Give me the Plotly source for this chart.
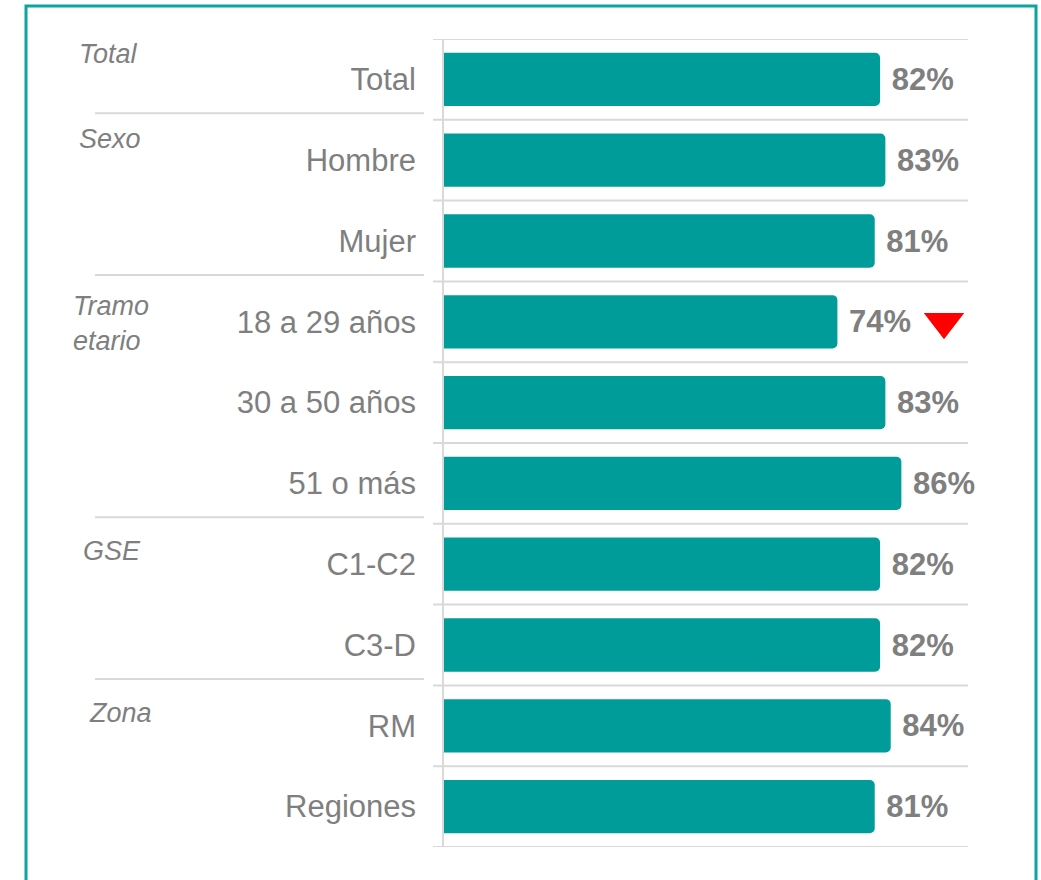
import plotly.graph_objects as go

categories = ["Total", "Hombre", "Mujer", "18 a 29 años", "30 a 50 años",
              "51 o más", "C1-C2", "C3-D", "RM", "Regiones"]
values = [82, 83, 81, 74, 83, 86, 82, 82, 84, 81]
signif_down = [False, False, False, True, False, False, False, False, False, False]
groups = ["Total", "Sexo", "Tramo<br>etario", "GSE", "Zona"]
group_start = [0, 1, 3, 6, 8]

W, H = 1041, 880
TEAL = "#009C99"
GREY = "#7F7F7F"
LINE = "#D9D9D9"
FONT = "Liberation Sans, Arial, sans-serif"

def px_x(x):
    return x / W

def px_y(y):
    return 1 - y / H

idx = list(range(len(categories)))

fig = go.Figure()
fig.add_trace(go.Bar(
    x=values, y=idx, orientation="h",
    marker=dict(color=TEAL, line=dict(width=0)),
    width=0.66,
    text=[f" {v}%" for v in values],
    textposition="outside",
    textfont=dict(size=31, color=GREY, family=FONT, weight="bold"),
    cliponaxis=False,
    hoverinfo="skip",
))

# significance marker
sx = [v + 20 for v, s in zip(values, signif_down) if s]
sy = [i for i, s in zip(idx, signif_down) if s]
fig.add_trace(go.Scatter(
    x=sx, y=sy, mode="markers",
    marker=dict(symbol="triangle-down", size=35, color="#FF0000", line=dict(width=0)),
    cliponaxis=False, hoverinfo="skip",
))

shapes = []
# horizontal grid lines at row boundaries
for b in range(len(categories) + 1):
    shapes.append(dict(type="line", xref="paper", yref="y",
                       x0=px_x(433), x1=px_x(968), y0=b - 0.5, y1=b - 0.5,
                       line=dict(color=LINE, width=2), layer="below"))
# vertical axis line
shapes.append(dict(type="line", xref="paper", yref="y",
                   x0=px_x(443), x1=px_x(443), y0=-0.5, y1=len(categories) - 0.5,
                   line=dict(color=LINE, width=2), layer="above"))
# group separators on the left
for g in group_start[1:]:
    shapes.append(dict(type="line", xref="paper", yref="y",
                       x0=px_x(95), x1=px_x(424), y0=g - 0.58, y1=g - 0.58,
                       line=dict(color=LINE, width=2)))
# outer border
shapes.append(dict(type="rect", xref="paper", yref="paper",
                   x0=px_x(26), x1=px_x(1036), y0=-0.05, y1=px_y(6),
                   line=dict(color="#0DA39F", width=3), fillcolor="rgba(0,0,0,0)"))

group_tops = [41, 126, 293, 538, 700]
group_left = [77, 77, 71, 81, 87]
annotations = []
for gname, top, left in zip(groups, group_tops, group_left):
    annotations.append(dict(text=gname, xref="paper", yref="paper",
                            x=px_x(left), y=px_y(top - 4), xanchor="left", yanchor="top",
                            showarrow=False, align="left",
                            font=dict(size=27, color=GREY, family=FONT, style="italic")))

fig.update_layout(
    width=W, height=H,
    margin=dict(l=0, r=0, t=0, b=0),
    paper_bgcolor="white", plot_bgcolor="white",
    showlegend=False,
    barcornerradius=5,
    shapes=shapes,
    annotations=annotations,
    xaxis=dict(domain=[px_x(443), px_x(968)], range=[0, 98.5],
               showgrid=False, zeroline=False, showticklabels=False, showline=False),
    yaxis=dict(domain=[px_y(847), px_y(39)], range=[len(categories) - 0.5, -0.5],
               tickvals=idx, ticktext=categories, showgrid=False, zeroline=False,
               showline=False, ticks="", ticklabelstandoff=26,
               tickfont=dict(size=31, color=GREY, family=FONT)),
)

fig.write_html("out.html", config={"displayModeBar": False},
               post_script="document.body.style.margin='0';document.body.style.overflow='hidden';")
